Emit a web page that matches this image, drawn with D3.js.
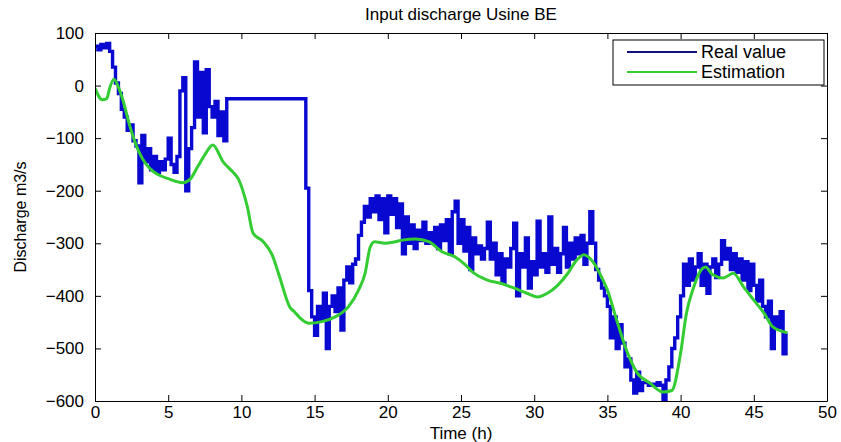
<!DOCTYPE html>
<html>
<head>
<meta charset="utf-8">
<script src="https://cdn.jsdelivr.net/npm/d3@7"></script>
<style>
  html, body { margin: 0; padding: 0; background: #ffffff; }
  svg text { font-family: "Liberation Sans", Arial, Helvetica, sans-serif; fill: #000; }
</style>
</head>
<body>
<svg id="chart" width="841" height="442"></svg>
<script>
// ---- data ----
const chartTitle = "Input discharge Usine BE";
const xLabel = "Time (h)";
const yLabel = "Discharge m3/s";
const seriesNames = ["Real value", "Estimation"];
const xTicks = [0, 5, 10, 15, 20, 25, 30, 35, 40, 45, 50];
const yTicks = [-600, -500, -400, -300, -200, -100, 0, 100];

// Real value: sampled every 0.2 h, drawn as steps
const sampleStep = 0.2;
const realValue = [
  75, 68, 78, 72, 80,
  65, 35, 5, -15, -45,
  -60, -85, -75, -105, -115,
  -185, -95, -145, -120, -160,
  -135, -165, -145, -160, -140,
  -100, -150, -165, -135, -10,
  15, -200, -120, -80, 45,
  -60, 25, -90, 30, -40,
  -60, -30, -95, -50, -105,
  -25, -25, -25, -25, -25,
  -25, -25, -25, -25, -25,
  -25, -25, -25, -25, -25,
  -25, -25, -25, -25, -25,
  -25, -25, -25, -25, -25,
  -25, -25, -195, -390, -440,
  -475, -420, -445, -395, -500,
  -420, -400, -430, -385, -465,
  -370, -345, -375, -340, -330,
  -285, -260, -230, -250, -215,
  -240, -210, -255, -215, -280,
  -210, -245, -215, -270, -225,
  -320, -250, -300, -265, -310,
  -275, -295, -260, -300, -280,
  -300, -270, -310, -265, -295,
  -255, -320, -240, -220, -300,
  -255, -315, -270, -350, -290,
  -320, -305, -330, -310, -260,
  -330, -300, -360, -320, -375,
  -330, -345, -310, -262, -400,
  -320, -345, -290, -385, -335,
  -360, -258, -345, -320, -355,
  -250, -340, -310, -355, -320,
  -270, -345, -300, -330, -290,
  -320, -285, -340, -300, -240,
  -300, -350, -370, -385, -400,
  -420, -480, -440, -500, -455,
  -490, -535, -520, -560, -585,
  -545, -580, -565, -565, -570,
  -568, -570, -565, -570, -600,
  -560, -535, -500, -480, -440,
  -400, -340, -380, -330, -370,
  -345, -320, -380, -340, -395,
  -345, -330, -365, -340, -295,
  -330, -310, -350, -320, -355,
  -330, -370, -335, -390, -340,
  -380, -410, -370, -420, -440,
  -410, -500, -440, -460, -430,
  -510, -470
];

// Estimation: smooth curve
const estTime = [0, 0.5, 0.8, 1.0, 1.3, 1.6, 1.9, 2.3, 2.7, 3.0, 3.5, 4.0, 4.5, 5.0, 5.5, 6.0, 6.5, 7.0, 7.5, 8.05,
  8.75, 9.4, 9.8, 10.4, 10.8, 11.5, 12.1, 12.6, 13.3, 13.65, 14.0, 14.6, 15.5, 16.4, 17.3, 18.0, 18.45, 18.8, 19.1, 19.8,
  20.5, 21.0, 21.9, 22.8, 23.7, 24.6, 25.3, 25.8, 26.8, 27.7, 28.6, 29.5, 30.2, 30.9, 31.6, 32.3, 32.9, 33.4, 34.0, 34.7,
  35.0, 35.6, 36.3, 37.0, 37.9, 38.8, 39.4, 40.0, 40.4, 40.9, 41.3, 41.7, 42.2, 42.9, 43.6, 44.3, 45.0, 45.7, 46.3, 47.3];
const estValue = [-5, -27, -25, -5, 12, -3, -27, -69, -105, -126, -150, -164, -172, -177, -182, -185, -178, -155, -132, -113,
  -145, -164, -178, -230, -281, -297, -322, -363, -421, -431, -442, -452, -449, -440, -421, -389, -357, -307, -297, -300,
  -297, -294, -292, -297, -316, -326, -341, -355, -370, -376, -385, -395, -402, -395, -380, -357, -332, -322, -335, -370,
  -389, -443, -503, -545, -566, -583, -580, -509, -433, -383, -355, -345, -360, -366, -357, -383, -408, -433, -459, -470];

// ---- layout ----
const W = 841, H = 442;
const margin = { left: 95, right: 14, top: 33, bottom: 41 };
const plotW = W - margin.left - margin.right;
const plotH = H - margin.top - margin.bottom;
const blueColor = "#0808d0";
const greenColor = "#33cc33";

const svg = d3.select("#chart");
const x = d3.scaleLinear().domain([0, 50]).range([margin.left, margin.left + plotW]);
const y = d3.scaleLinear().domain([-600, 100]).range([margin.top + plotH, margin.top]);

svg.append("rect").attr("x", 0).attr("y", 0).attr("width", W).attr("height", H).attr("fill", "#fff");

svg.append("defs").append("clipPath").attr("id", "clip")
  .append("rect").attr("x", margin.left).attr("y", margin.top).attr("width", plotW).attr("height", plotH);

// data lines
const realData = realValue.map((v, i) => ({ t: i * sampleStep, v }));
const estData = estTime.map((t, i) => ({ t, v: estValue[i] }));

const g = svg.append("g").attr("clip-path", "url(#clip)");
g.append("path").datum(realData)
  .attr("fill", "none").attr("stroke", blueColor).attr("stroke-width", 3.4)
  .attr("d", d3.line().curve(d3.curveStepAfter).x(d => x(d.t)).y(d => y(d.v)));
g.append("path").datum(estData)
  .attr("fill", "none").attr("stroke", greenColor).attr("stroke-width", 3)
  .attr("stroke-linejoin", "round")
  .attr("d", d3.line().curve(d3.curveMonotoneX).x(d => x(d.t)).y(d => y(d.v)));

// axes (MATLAB style: ticks inside, box)
const tickLen = 6;
const fontTick = 17;
const axB = svg.append("g").attr("transform", `translate(0,${margin.top + plotH})`)
  .call(d3.axisBottom(x).tickValues(xTicks).tickSize(-tickLen).tickPadding(5).tickSizeOuter(0));
const axT = svg.append("g").attr("transform", `translate(0,${margin.top})`)
  .call(d3.axisTop(x).tickValues(xTicks).tickSize(-tickLen).tickFormat("").tickSizeOuter(0));
const axL = svg.append("g").attr("transform", `translate(${margin.left},0)`)
  .call(d3.axisLeft(y).tickValues(yTicks).tickSize(-tickLen).tickPadding(tickLen + 5).tickSizeOuter(0));
const axR = svg.append("g").attr("transform", `translate(${margin.left + plotW},0)`)
  .call(d3.axisRight(y).tickValues(yTicks).tickSize(-tickLen).tickFormat("").tickSizeOuter(0));
[axB, axT, axL, axR].forEach(a => {
  a.selectAll("path.domain").attr("stroke", "#000").attr("stroke-width", 1);
  a.selectAll("line").attr("stroke", "#000");
  a.selectAll("text").style("font-size", fontTick + "px")
    .style("font-family", '"Liberation Sans", Arial, sans-serif').attr("fill", "#000");
});

// title and labels
svg.append("text").attr("x", margin.left + plotW / 2).attr("y", 20)
  .attr("text-anchor", "middle").style("font-size", "17px").text(chartTitle);
svg.append("text").attr("x", margin.left + plotW / 2).attr("y", 439)
  .attr("text-anchor", "middle").style("font-size", "17px").text(xLabel);
svg.append("text").attr("transform", `translate(26,${margin.top + plotH / 2}) rotate(-90)`)
  .attr("text-anchor", "middle").style("font-size", "16px").text(yLabel);

// legend
const lg = svg.append("g");
const lx = 613, ly = 40, lw = 211, lh = 45;
lg.append("rect").attr("x", lx).attr("y", ly).attr("width", lw).attr("height", lh)
  .attr("fill", "#fff").attr("stroke", "#000").attr("stroke-width", 1);
seriesNames.forEach((name, i) => {
  const yy = ly + 12 + i * 20;
  lg.append("line").attr("x1", lx + 14).attr("x2", lx + 84).attr("y1", yy).attr("y2", yy)
    .attr("stroke", i === 0 ? "#101080" : greenColor).attr("stroke-width", 2);
  lg.append("text").attr("x", lx + 88).attr("y", yy).attr("dy", "0.35em")
    .style("font-size", "18px").text(name);
});
</script>
</body>
</html>
